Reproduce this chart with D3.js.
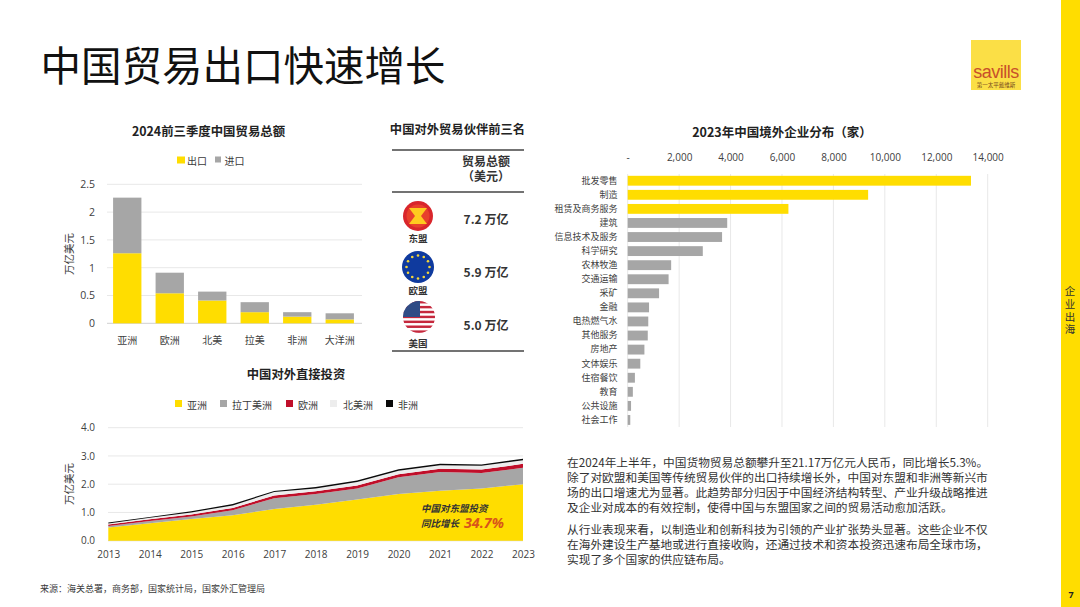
<!DOCTYPE html>
<html lang="zh"><head><meta charset="utf-8">
<script src="https://cdn.jsdelivr.net/npm/d3@7/dist/d3.min.js"></script>
<style>
html,body{margin:0;padding:0;background:#fff;overflow:hidden}
svg{display:block}
text{font-family:"Noto Sans CJK SC","Noto Sans",sans-serif}
.num{font-family:"Open Sans","Noto Sans CJK SC",sans-serif}
.tight{font-family:"Liberation Sans","Noto Sans CJK SC",sans-serif}
.axis path,.axis line{display:none}
.axis text{fill:#404040}
</style></head><body>
<svg id="c" width="1080" height="607"></svg>
<script>
const pageTitle="中国贸易出口快速增长";
const tradeTitle="2024前三季度中国贸易总额";
const tradeCats=["亚洲","欧洲","北美","拉美","非洲","大洋洲"];
const tradeSeriesNames=["出口","进口"];
const tradeExport=[1.26,0.54,0.41,0.20,0.12,0.07];
const tradeImport=[1.00,0.37,0.16,0.18,0.08,0.11];
const tradeTicks=[0,0.5,1,1.5,2,2.5];

const fdiTitle="中国对外直接投资";
const fdiYears=[2013,2014,2015,2016,2017,2018,2019,2020,2021,2022,2023];
const fdiNames=["亚洲","拉丁美洲","欧洲","北美洲","非洲"];
const fdiAsia=[0.47,0.62,0.77,0.90,1.12,1.27,1.46,1.65,1.77,1.85,2.00];
const fdiLatam=[0.05,0.08,0.09,0.18,0.38,0.38,0.39,0.60,0.66,0.55,0.58];
const fdiEurope=[0.05,0.06,0.07,0.08,0.10,0.10,0.10,0.10,0.12,0.12,0.14];
const fdiNorthAm=[0.04,0.05,0.07,0.09,0.12,0.10,0.13,0.13,0.12,0.13,0.13];
const fdiAfrica=[0.03,0.03,0.04,0.05,0.04,0.05,0.05,0.05,0.05,0.05,0.05];
const fdiTicks=[0,1,2,3,4];

const partnerTitle="中国对外贸易伙伴前三名";
const partnerHeader=["贸易总额","（美元）"];
const partnerNames=["东盟","欧盟","美国"];
const partnerValues=["7.2 万亿","5.9 万亿","5.0 万亿"];

const firmsTitle="2023年中国境外企业分布（家）";
const firmCats=["批发零售","制造","租赁及商务服务","建筑","信息技术及服务","科学研究","农林牧渔","交通运输","采矿","金融","电热燃气水","其他服务","房地产","文体娱乐","住宿餐饮","教育","公共设施","社会工作"];
const firmValues=[13350,9350,6250,3870,3670,2920,1690,1590,1220,830,800,780,650,490,280,200,130,100];
const firmTicks=[0,2000,4000,6000,8000,10000,12000,14000];

const bodyP1=["在2024年上半年，中国货物贸易总额攀升至21.17万亿元人民币，同比增长5.3%。","除了对欧盟和美国等传统贸易伙伴的出口持续增长外，中国对东盟和非洲等新兴市","场的出口增速尤为显著。此趋势部分归因于中国经济结构转型、产业升级战略推进","及企业对成本的有效控制，使得中国与东盟国家之间的贸易活动愈加活跃。"];
const bodyP2=["从行业表现来看，以制造业和创新科技为引领的产业扩张势头显著。这些企业不仅","在海外建设生产基地或进行直接收购，还通过技术和资本投资迅速布局全球市场，","实现了多个国家的供应链布局。"];
const sourceText="来源：海关总署，商务部，国家统计局，国家外汇管理局";

const YEL="#FFDD00",GRY="#A6A6A6",RED="#C00F2A",LGT="#EDEDED",BLK="#0A0A0A",GRID="#E8E8E8",TXT="#3a3a3a";
const svg=d3.select("#c");
function txt(g,x,y,s,o={}){
  const t=g.append("text").attr("x",x).attr("y",y).text(s)
    .attr("font-size",o.size||10).attr("fill",o.fill||TXT)
    .attr("text-anchor",o.anchor||"start").attr("dominant-baseline","central")
    .attr("font-weight",o.weight||400);
  if(o.style)t.attr("font-style",o.style);
  if(o.spacing)t.attr("letter-spacing",o.spacing);
  if(o.cls)t.attr("class",o.cls);
  return t;
}
// page chrome
svg.append("rect").attr("x",1061).attr("y",0).attr("width",19).attr("height",607).attr("fill",YEL);
txt(svg,40.5,63,pageTitle,{size:40.5,fill:"#111",weight:400});
svg.append("rect").attr("x",971).attr("y",40).attr("width",50).attr("height",50).attr("fill","#FBDF46");
txt(svg,996,71.5,"savills",{size:18,fill:"#C8502A",anchor:"middle",spacing:-0.5}).attr("style","font-family:'Liberation Sans'");
txt(svg,996,85,"第一太平戴维斯",{size:5.5,fill:"#7a4a20",anchor:"middle"});
"企业出海".split("").forEach((c,i)=>txt(svg,1070,291+i*12.8,c,{size:10.5,fill:"#333",anchor:"middle",cls:"tight"}));
txt(svg,1071,594,"7",{size:9,fill:"#222",anchor:"middle",weight:700,cls:"num"});
txt(svg,40,588,sourceText,{size:9});

// --- Trade stacked bars
(function(){
  const g=svg.append("g");
  const x=d3.scaleBand().domain(tradeCats).range([106,361]).paddingInner(1/3).paddingOuter(1/6);
  const y=d3.scaleLinear().domain([0,2.5]).range([323.3,184.3]);
  txt(g,208.5,131,tradeTitle,{size:12.4,weight:700,anchor:"middle",fill:"#222"});
  g.append("g").selectAll("line").data(tradeTicks).join("line")
    .attr("x1",107).attr("x2",362).attr("y1",d=>y(d)).attr("y2",d=>y(d))
    .attr("stroke",d=>d===0?"#D0D0D0":GRID);
  const rows=tradeCats.map((c,i)=>({c,a:tradeExport[i],b:tradeImport[i]}));
  const st=d3.stack().keys(["a","b"])(rows);
  g.append("g").selectAll("g").data(st).join("g").attr("fill",(d,i)=>[YEL,GRY][i])
    .selectAll("rect").data(d=>d).join("rect")
    .attr("x",d=>x(d.data.c)).attr("width",x.bandwidth())
    .attr("y",d=>y(d[1])).attr("height",d=>y(d[0])-y(d[1]));
  const ay=g.append("g").attr("class","axis").attr("transform","translate(95,0)")
    .call(d3.axisLeft(y).tickValues(tradeTicks).tickFormat(d3.format("~g")).tickSize(0).tickPadding(0));
  ay.selectAll("text").attr("font-size",10.5).attr("class","num");
  const ax=g.append("g").attr("class","axis").attr("transform","translate(0,337)")
    .call(d3.axisBottom(x).tickSize(0).tickPadding(0));
  ax.selectAll("text").attr("font-size",10);
  txt(g,0,0,"万亿美元",{size:10.5,anchor:"middle"}).attr("transform","translate(68,254) rotate(-90)");
  const lx=[177,215];
  tradeSeriesNames.forEach((n,i)=>{
    g.append("rect").attr("x",lx[i]).attr("y",156.5).attr("width",i?6:8).attr("height",i?6:7).attr("fill",[YEL,GRY][i]);
    txt(g,lx[i]+(i?9.5:10),160.5,n,{size:10});
  });
})();

// --- FDI stacked area
(function(){
  const g=svg.append("g");
  const x=d3.scaleLinear().domain([2013,2023]).range([108.3,523]);
  const y=d3.scaleLinear().domain([0,4]).range([540.7,427.7]);
  txt(g,296,374,fdiTitle,{size:12.3,weight:700,anchor:"middle",fill:"#222"});
  g.append("g").selectAll("line").data(fdiTicks).join("line")
    .attr("x1",108).attr("x2",523).attr("y1",d=>y(d)).attr("y2",d=>y(d))
    .attr("stroke",d=>d===0?"#D0D0D0":GRID);
  const rows=fdiYears.map((yr,i)=>({yr,s0:fdiAsia[i],s1:fdiLatam[i],s2:fdiEurope[i],s3:fdiNorthAm[i],s4:fdiAfrica[i]}));
  const cols=[YEL,GRY,RED,LGT,BLK];
  const st=d3.stack().keys(["s0","s1","s2","s3","s4"])(rows);
  const area=d3.area().x(d=>x(d.data.yr)).y0(d=>y(d[0])).y1(d=>y(d[1]));
  g.append("g").selectAll("path").data(st).join("path").attr("d",area).attr("fill",(d,i)=>cols[i]);
  const ay=g.append("g").attr("class","axis").attr("transform","translate(95,0)")
    .call(d3.axisLeft(y).tickValues(fdiTicks).tickFormat(d3.format(".1f")).tickSize(0).tickPadding(0));
  ay.selectAll("text").attr("font-size",10).attr("class","num");
  const ax=g.append("g").attr("class","axis").attr("transform","translate(0,550.5)")
    .call(d3.axisBottom(x).tickValues(fdiYears).tickFormat(d3.format("d")).tickSize(0).tickPadding(0));
  ax.selectAll("text").attr("font-size",10).attr("class","num");
  txt(g,0,0,"万亿美元",{size:10.5,anchor:"middle"}).attr("transform","translate(68,484) rotate(-90)");
  const lx=[175,220,286,330,386],tx=[187,232,298,343,398];
  fdiNames.forEach((n,i)=>{
    g.append("rect").attr("x",lx[i]).attr("y",400).attr("width",7).attr("height",7).attr("fill",cols[i]);
    txt(g,tx[i],404,n,{size:10});
  });
  txt(g,421,507.5,"中国对东盟投资",{size:9.5,weight:700,style:"italic",fill:"#333"});
  txt(g,421,523,"同比增长",{size:9.5,weight:700,style:"italic",fill:"#333"});
  txt(g,464,522,"34.7%",{size:14.3,weight:700,style:"italic",fill:"#D9541A",cls:"num"});
})();

// --- partners table
(function(){
  const g=svg.append("g");
  txt(g,457.5,129,partnerTitle,{size:12.3,weight:700,anchor:"middle",fill:"#222"});
  [150,192,351].forEach(yy=>g.append("line").attr("x1",392).attr("x2",524).attr("y1",yy).attr("y2",yy).attr("stroke","#444").attr("stroke-width",1.3));
  partnerHeader.forEach((s,i)=>txt(g,486,162+i*14.7,s,{size:12,weight:700,anchor:"middle",fill:"#333",cls:"tight"}));
  const fy=[216,267,317],ly=[238,290,343],vy=[218,271,324];
  partnerNames.forEach((n,i)=>{
    txt(g,418,ly[i],n,{size:9.5,weight:700,anchor:"middle",fill:"#333"});
    txt(g,486,vy[i],partnerValues[i],{size:12,weight:700,anchor:"middle",fill:"#333"});
  });
  // ASEAN emblem
  const a=g.append("g").attr("transform",`translate(418,${fy[0]})`);
  a.append("circle").attr("r",15).attr("fill","#D9262C");
  a.append("circle").attr("r",11.5).attr("fill","#E8412C");
  a.append("path").attr("d","M-9,-8 L9,-8 L3,0 L9,8 L-9,8 L-3,0 Z").attr("fill","#FFCB1F");
  // EU flag
  const e=g.append("g").attr("transform",`translate(418,${fy[1]})`);
  e.append("circle").attr("r",16).attr("fill","#0F3A9E");
  d3.range(12).forEach(i=>{const t=i*Math.PI/6;e.append("circle").attr("cx",11.5*Math.cos(t)).attr("cy",11.5*Math.sin(t)).attr("r",1.3).attr("fill","#F4D63A");});
  // US flag
  const u=g.append("g").attr("transform",`translate(419,${fy[2]})`);
  const cid="usclip";
  svg.append("defs").append("clipPath").attr("id",cid).append("circle").attr("r",16);
  const uc=u.append("g").attr("clip-path",`url(#${cid})`);
  uc.append("rect").attr("x",-16).attr("y",-16).attr("width",32).attr("height",32).attr("fill","#fff");
  d3.range(7).forEach(i=>uc.append("rect").attr("x",-16).attr("y",-16+i*4.9).attr("width",32).attr("height",2.45).attr("fill","#C5283D"));
  uc.append("rect").attr("x",-16).attr("y",-16).attr("width",17).attr("height",16).attr("fill","#2F4B85");
})();

// --- firms bars
(function(){
  const g=svg.append("g");
  const x=d3.scaleLinear().domain([0,14000]).range([627.7,987.7]);
  const y=d3.scaleBand().domain(firmCats).range([173.7,427]).paddingInner(0.3).paddingOuter(0.15);
  txt(g,782,131,firmsTitle,{size:12.5,weight:700,anchor:"middle",fill:"#222"});
  g.append("g").selectAll("line").data(firmTicks).join("line")
    .attr("x1",d=>x(d)).attr("x2",d=>x(d)).attr("y1",174).attr("y2",427).attr("stroke",GRID);
  g.append("g").selectAll("rect").data(firmCats).join("rect")
    .attr("x",x(0)).attr("y",d=>y(d)).attr("height",y.bandwidth())
    .attr("width",(d,i)=>x(firmValues[i])-x(0)).attr("fill",(d,i)=>i<3?YEL:GRY);
  const ax=g.append("g").attr("class","axis").attr("transform","translate(0,161)")
    .call(d3.axisTop(x).tickValues(firmTicks).tickFormat(d=>d===0?"-":d3.format(",")(d)).tickSize(0).tickPadding(0));
  ax.selectAll("text").attr("font-size",10).attr("class","num").attr("x",0);
  const ay=g.append("g").attr("class","axis").attr("transform","translate(617.5,0)")
    .call(d3.axisLeft(y).tickSize(0).tickPadding(0));
  ay.selectAll("text").attr("font-size",9);
})();

// --- body text
(function(){
  const g=svg.append("g");
  bodyP1.forEach((s,i)=>txt(g,567,461+i*15.1,s,{size:11.7,fill:"#333"}));
  bodyP2.forEach((s,i)=>txt(g,567,528+i*15.1,s,{size:11.7,fill:"#333"}));
})();
</script></body></html>
